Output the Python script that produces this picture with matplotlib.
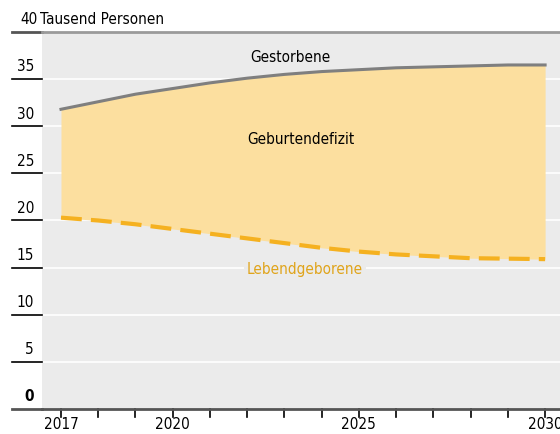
import matplotlib.pyplot as plt
import matplotlib.transforms as mtransforms

plt.rcParams['font.family'] = ['Liberation Sans Narrow', 'DejaVu Sans']
plt.rcParams['font.stretch'] = 'condensed'

years = [2017, 2018, 2019, 2020, 2021, 2022, 2023, 2024, 2025, 2026, 2027, 2028, 2029, 2030]
gestorbene = [31.8, 32.6, 33.4, 34.0, 34.6, 35.1, 35.5, 35.8, 36.0, 36.2, 36.3, 36.4, 36.5, 36.5]
lebendgeborene = [20.3, 20.0, 19.6, 19.1, 18.6, 18.1, 17.6, 17.1, 16.7, 16.4, 16.2, 16.0, 15.95, 15.9]
yticks = [0, 5, 10, 15, 20, 25, 30, 35]
xlabels = [2017, 2020, 2025, 2030]

bg = '#ebebeb'
fs = 11
fig = plt.figure(figsize=(5.6, 4.34), dpi=100)
ax = fig.add_axes([0.075, 0.0576, 0.925, 0.8687])
ax.set_facecolor(bg)
ax.set_xlim(2016.49, 2030.4)
ax.set_ylim(0, 40)

for v in yticks[1:]:
    ax.axhline(v, color='white', lw=1.2, zorder=1)

ax.fill_between(years, lebendgeborene, gestorbene, color='#fcdf9f', lw=0, zorder=2)
ax.plot(years, gestorbene, color='#7f7f7f', lw=2.2, zorder=3)
ax.plot(years, lebendgeborene, color='#f5b120', lw=3, dashes=(5, 2.2), zorder=3)

for s in ax.spines.values():
    s.set_visible(False)
ax.set_xticks([])
ax.set_yticks([])

# y tick lines and labels left of the plot
trans = mtransforms.blended_transform_factory(ax.transAxes, ax.transData)
x0 = -30 / 518
for v in yticks + [40]:
    col = '#555555' if v in (0, 40) else 'black'
    lw = 2 if v in (0, 40) else 1.2
    ax.plot([x0, 0], [v, v], color=col, lw=lw, transform=trans, clip_on=False)
for v in yticks:
    ax.text(-8 / 518, v + 0.5, str(v), transform=trans, ha='right', va='bottom',
            fontsize=fs, fontweight='bold' if v == 0 else 'normal')
ax.text(x0 + 8 / 518, 40.5, '40', transform=trans, ha='left', va='bottom', fontsize=fs)
ax.text(x0 + 28 / 518, 40.5, 'Tausend Personen', transform=trans, ha='left', va='bottom', fontsize=fs)

# top and bottom lines across the plot
ax.axhline(40, color='#9a9a9a', lw=2, clip_on=False, zorder=4)
ax.axhline(0, color='#555555', lw=2, clip_on=False, zorder=4)

# x ticks
for yr in years:
    ax.plot([yr, yr], [0, -0.9], color='black', lw=1.2, clip_on=False)
for yr in xlabels:
    ax.text(yr, -0.9, str(yr), ha='center', va='top', fontsize=fs)

ax.text(2023.15, 37.3, 'Gestorbene', ha='center', va='center', fontsize=fs)
ax.text(2023.45, 28.6, 'Geburtendefizit', ha='center', va='center', fontsize=fs)
ax.text(2023.55, 14.8, 'Lebendgeborene', ha='center', va='center', fontsize=fs, color='#e0a41a',
        bbox=dict(facecolor=bg, edgecolor='none', pad=2))

fig.savefig('out.png', dpi=100)
